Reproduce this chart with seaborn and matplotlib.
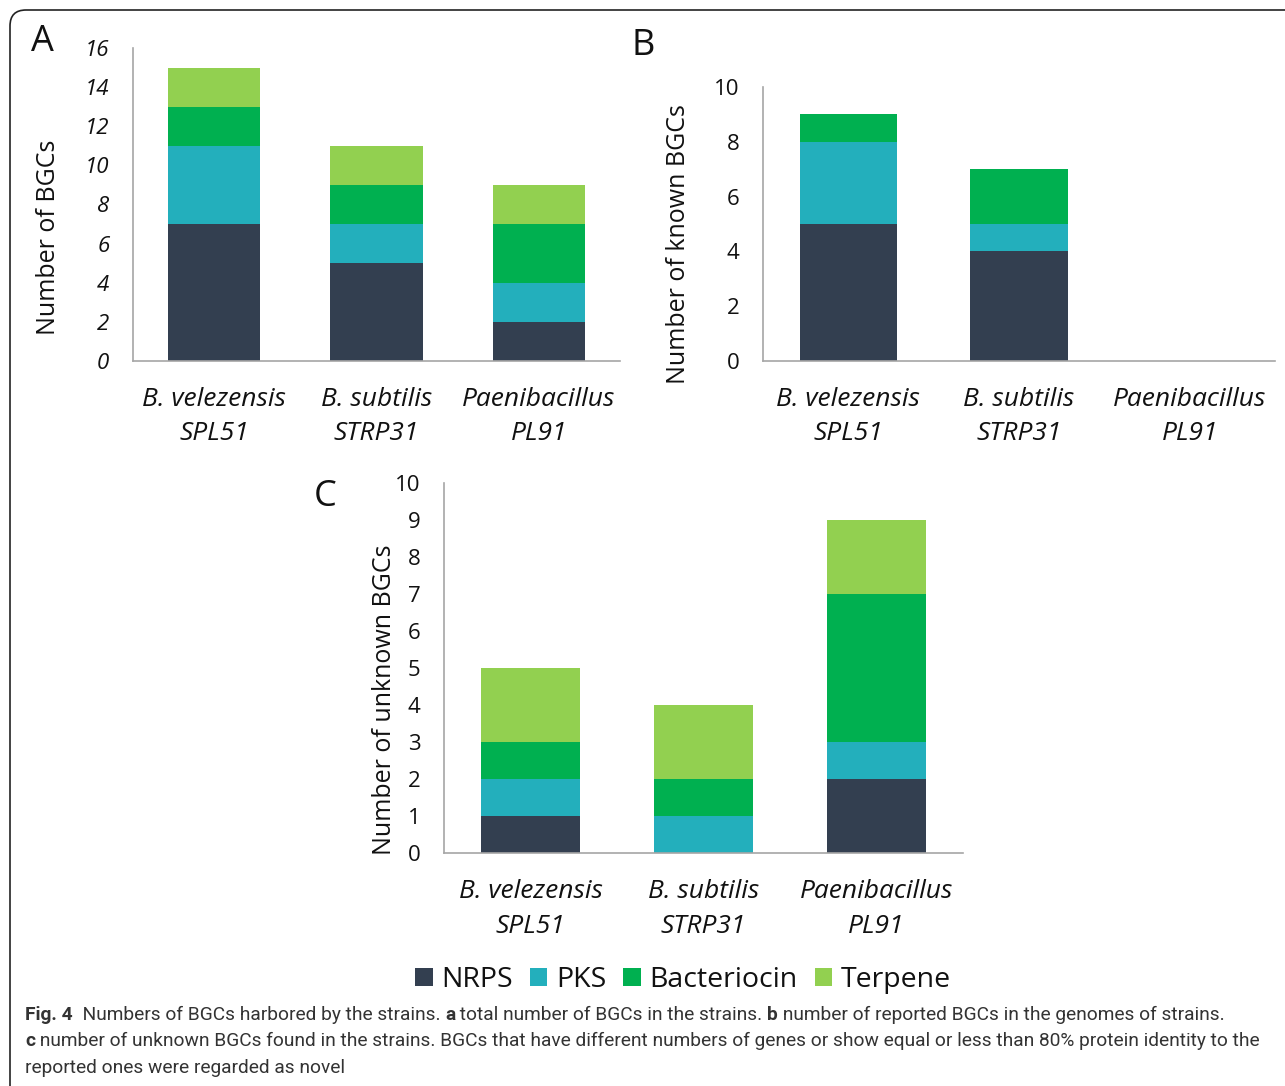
import matplotlib
matplotlib.use("Agg")
import matplotlib.pyplot as plt
import seaborn as sns
import numpy as np
import pandas as pd
from matplotlib.patches import Patch, FancyBboxPatch

# data
strains = ["B. velezensis\nSPL51", "B. subtilis\nSTRP31", "Paenibacillus\nPL91"]
bgc_types = ["NRPS", "PKS", "Bacteriocin", "Terpene"]
colors = ["#333F50", "#23AFBC", "#00B050", "#92D050"]

total_nrps = [7, 5, 2]
total_pks = [4, 2, 2]
total_bact = [2, 2, 3]
total_terp = [2, 2, 2]

known_nrps = [5, 4, 0]
known_pks = [3, 1, 0]
known_bact = [1, 2, 0]
known_terp = [0, 0, 0]

unknown_nrps = [1, 0, 2]
unknown_pks = [1, 1, 1]
unknown_bact = [1, 1, 4]
unknown_terp = [2, 2, 2]

sns.set_style("white")
plt.rcParams['font.family'] = ['Open Sans', 'DejaVu Sans']

W, H = 1285, 1086
grey = "#A6A6A6"
ink = "#111111"


def stacked_bars(ax, layers, ymax, ystep, ylabel, italic_y, label_xy):
    """Draw stacked bars with seaborn, biggest cumulative first."""
    df = pd.DataFrame({"strain": strains})
    cum = np.zeros(len(strains))
    for name, vals in zip(bgc_types, layers):
        cum = cum + np.array(vals)
        df[name] = cum
    for name, col in reversed(list(zip(bgc_types, colors))):
        sns.barplot(data=df, x="strain", y=name, color=col, width=0.57,
                    saturation=1, ax=ax, linewidth=0)
    ax.set_xlim(-0.5, 2.5)
    ax.set_ylim(0, ymax)
    ax.set_yticks(np.arange(0, ymax + 0.01, ystep))
    ax.set_xlabel("")
    ax.set_ylabel(ylabel, fontsize=18, color=ink)
    # place the y label where it sits in the original (pixel coords)
    pos = ax.get_position()
    lx = (label_xy[0] / W - pos.x0) / pos.width
    ly = ((1 - label_xy[1] / H) - pos.y0) / pos.height
    ax.yaxis.set_label_coords(lx, ly)
    for s in ["top", "right"]:
        ax.spines[s].set_visible(False)
    for s in ["left", "bottom"]:
        ax.spines[s].set_color(grey)
        ax.spines[s].set_linewidth(1.2)
    ax.tick_params(axis="y", length=6, color=grey, width=1.2, labelsize=16,
                   pad=11, labelcolor=ink)
    ax.tick_params(axis="x", length=0, labelsize=19, pad=19, labelcolor=ink)
    for lab in ax.get_xticklabels():
        lab.set_fontstyle("italic")
        lab.set_linespacing(1.48)
    if italic_y:
        for lab in ax.get_yticklabels():
            lab.set_fontstyle("italic")


fig = plt.figure(figsize=(W / 100, H / 100), dpi=100)

ax_a = fig.add_axes([0.1035, 0.6676, 0.379, 0.2882])
ax_b = fig.add_axes([0.5938, 0.6676, 0.3984, 0.2523])
ax_c = fig.add_axes([0.3455, 0.2145, 0.4039, 0.3407])

stacked_bars(ax_a, [total_nrps, total_pks, total_bact, total_terp], 16, 2,
             "Number of BGCs", True, (61, 237))
stacked_bars(ax_b, [known_nrps, known_pks, known_bact, known_terp], 10, 2,
             "Number of known BGCs", False, (691, 244))
stacked_bars(ax_c, [unknown_nrps, unknown_pks, unknown_bact, unknown_terp], 10, 1,
             "Number of unknown BGCs", False, (397, 700))

# panel letters
fig.text(42 / W, 1 - 42 / H, "A", fontsize=26, ha="center", va="center", color=ink)
fig.text(643 / W, 1 - 46 / H, "B", fontsize=26, ha="center", va="center", color=ink)
fig.text(325 / W, 1 - 497 / H, "C", fontsize=26, ha="center", va="center", color=ink)

# legend
handles = [Patch(facecolor=c, edgecolor="none", label=n) for n, c in zip(bgc_types, colors)]
leg = fig.legend(handles=handles, loc="center", bbox_to_anchor=(683 / W, 1 - 980 / H),
                 ncol=4, frameon=False, fontsize=20.5, handlelength=0.62, handleheight=0.62,
                 handletextpad=0.3, columnspacing=0.6)
for t in leg.get_texts():
    t.set_color(ink)

# rounded frame around the figure
frame = FancyBboxPatch((0.1, -1.0), 14, 11.76, boxstyle="round,pad=0,rounding_size=0.16",
                       transform=fig.dpi_scale_trans, facecolor="none",
                       edgecolor="#222222", linewidth=1.2, clip_on=False)
fig.patches.append(frame)

# caption, drawn piece by piece to mix bold and regular
cap_font = ['Roboto', 'DejaVu Sans']
caption_lines = [
    [("Fig. 4", "bold"), ("  Numbers of BGCs harbored by the strains. ", "normal"),
     ("a", "bold"), (" total number of BGCs in the strains. ", "normal"),
     ("b", "bold"), (" number of reported BGCs in the genomes of strains.", "normal")],
    [("c", "bold"), (" number of unknown BGCs found in the strains. BGCs that have different "
                     "numbers of genes or show equal or less than 80% protein identity to the", "normal")],
    [("reported ones were regarded as novel", "normal")],
]
fig.canvas.draw()
renderer = fig.canvas.get_renderer()


def draw_line(parts, yy, size):
    x = 25
    for txt, weight in parts:
        t = fig.text(x / W, 1 - yy / H, txt, fontsize=size, fontweight=weight,
                     family=cap_font, color="#333333", va="center", ha="left")
        x += t.get_window_extent(renderer).width
    return x


# size the caption so that the longest line ends where it does in the original
probe = fig.text(0, 0, "".join(p[0] for p in caption_lines[1]), fontsize=14, family=cap_font)
probe_w = probe.get_window_extent(renderer).width
probe.remove()
cap_size = min(14, 14 * (1267 - 25) / probe_w)

for parts, yy in zip(caption_lines, [1015, 1041, 1068]):
    draw_line(parts, yy, cap_size)

fig.savefig("out.png", dpi=100)
